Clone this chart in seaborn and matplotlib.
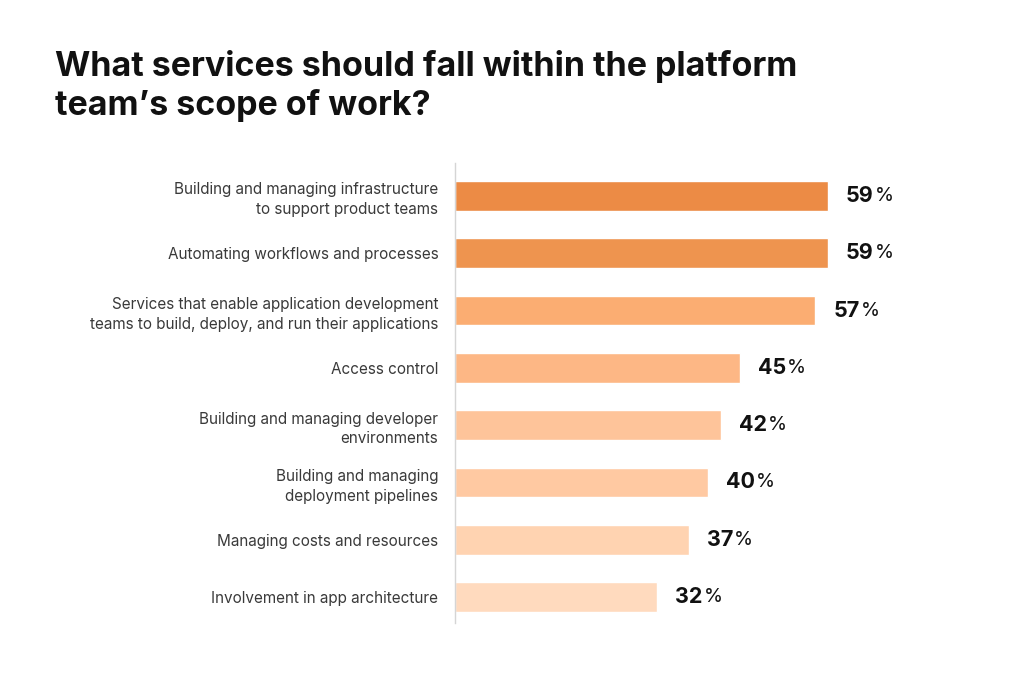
import matplotlib
matplotlib.use("Agg")
import matplotlib.pyplot as plt
import seaborn as sns
import pandas as pd

categories = [
    "Building and managing infrastructure\nto support product teams",
    "Automating workflows and processes",
    "Services that enable application development\nteams to build, deploy, and run their applications",
    "Access control",
    "Building and managing developer\nenvironments",
    "Building and managing\ndeployment pipelines",
    "Managing costs and resources",
    "Involvement in app architecture",
]
values = [59, 59, 57, 45, 42, 40, 37, 32]
colors = ["#EC8B45", "#EE944F", "#FBAD72", "#FDB785", "#FEC49A", "#FFC9A2", "#FFD3B1", "#FFDABE"]
title = "What services should fall within the platform\nteam\u2019s scope of work?"

sns.set_theme(style="white")
plt.rcParams['font.family'] = ['Inter', 'DejaVu Sans']

df = pd.DataFrame({"cat": categories, "val": values})

fig = plt.figure(figsize=(10.24, 6.76), dpi=100)
ax = fig.add_axes([455/1024, 53/676, (1000-455)/1024, 460/676])
sns.barplot(data=df, x="val", y="cat", hue="cat", palette=colors, legend=False,
            width=0.52, ax=ax, saturation=1, orient="h")
ax.set_xlim(0, 86.2)
ax.set_ylim(7.454, -0.576)
ax.set_xlabel("")
ax.set_ylabel("")
ax.set_xticks([])
for s in ["top", "right", "bottom"]:
    ax.spines[s].set_visible(False)
ax.spines["left"].set_color("#D5D5D5")
ax.spines["left"].set_linewidth(1)
ax.tick_params(axis="y", length=0, pad=12)
for lbl in ax.get_yticklabels():
    lbl.set_fontsize(11)
    lbl.set_color("#3A3A3A")
    lbl.set_linespacing(1.4)
    lbl.set_horizontalalignment("right")

fig.text(55/1024, 1 - 50/676, title, fontsize=24.5, fontweight="bold", color="#111111",
         va="top", ha="left", linespacing=1.22)

fig.canvas.draw()
renderer = fig.canvas.get_renderer()
for i, v in enumerate(values):
    t = ax.annotate(f"{v}", xy=(v, i), xytext=(13, 0), textcoords="offset points",
                    fontsize=15.5, fontweight="bold", color="#111111", va="center", ha="left")
    bb = t.get_window_extent(renderer=renderer)
    x_disp, y_disp = ax.transData.transform((v, i))
    off_px = bb.x1 - x_disp + 1
    ax.annotate("%", xy=(v, i), xytext=(off_px * 72 / fig.dpi, 0), textcoords="offset points",
                fontsize=14, color="#111111", va="center", ha="left")

fig.savefig("out.png", dpi=100, facecolor="white")
